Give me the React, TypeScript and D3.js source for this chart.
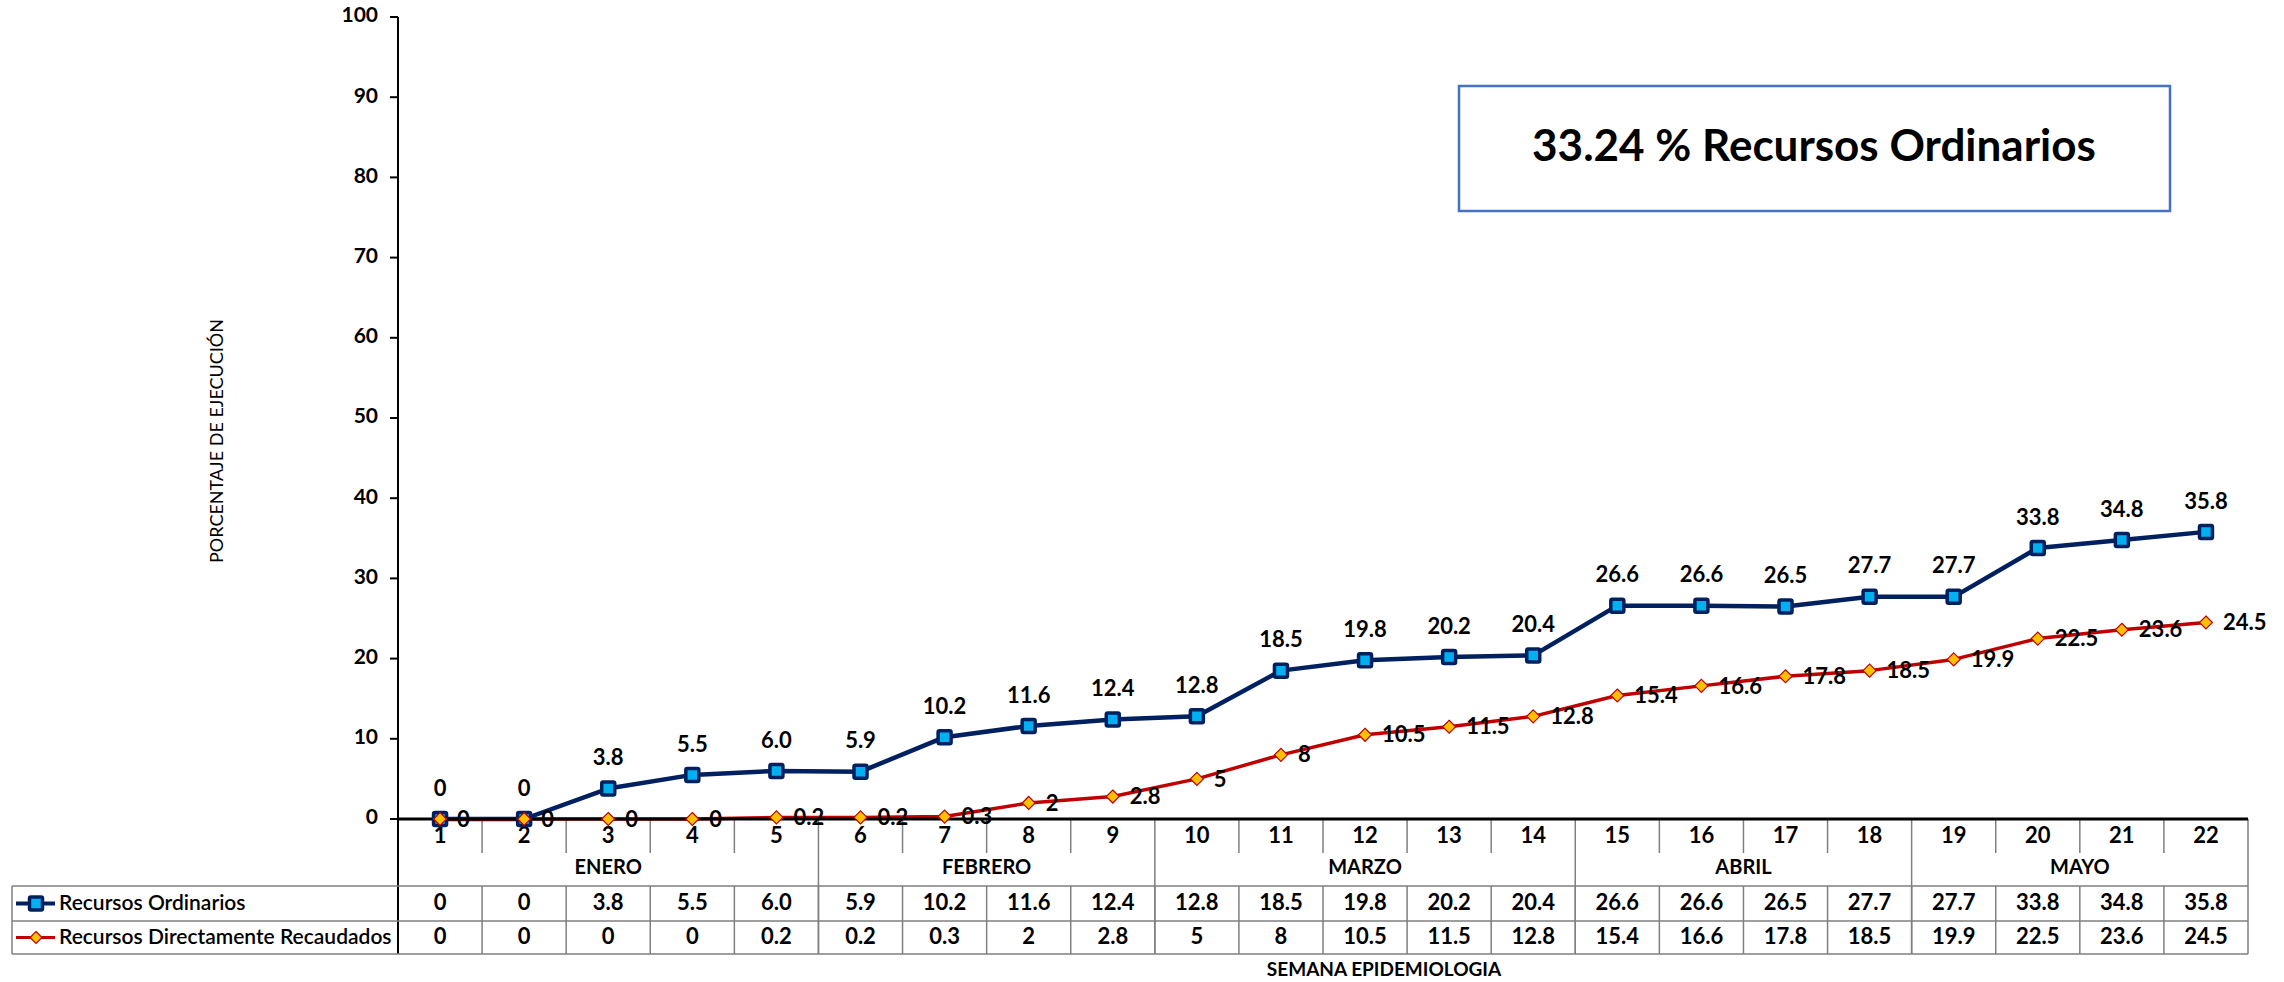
import React from 'react';
import * as d3 from 'd3';

const weeks = ['1','2','3','4','5','6','7','8','9','10','11','12','13','14','15','16','17','18','19','20','21','22'];
const ordinarios = [0, 0, 3.8, 5.5, 6.0, 5.9, 10.2, 11.6, 12.4, 12.8, 18.5, 19.8, 20.2, 20.4, 26.6, 26.6, 26.5, 27.7, 27.7, 33.8, 34.8, 35.8];
const ordinariosLabels = ['0','0','3.8','5.5','6.0','5.9','10.2','11.6','12.4','12.8','18.5','19.8','20.2','20.4','26.6','26.6','26.5','27.7','27.7','33.8','34.8','35.8'];
const directos = [0, 0, 0, 0, 0.2, 0.2, 0.3, 2, 2.8, 5, 8, 10.5, 11.5, 12.8, 15.4, 16.6, 17.8, 18.5, 19.9, 22.5, 23.6, 24.5];
const directosLabels = ['0','0','0','0','0.2','0.2','0.3','2','2.8','5','8','10.5','11.5','12.8','15.4','16.6','17.8','18.5','19.9','22.5','23.6','24.5'];
const months = [
  { name: 'ENERO', from: 0, to: 4 },
  { name: 'FEBRERO', from: 5, to: 8 },
  { name: 'MARZO', from: 9, to: 13 },
  { name: 'ABRIL', from: 14, to: 17 },
  { name: 'MAYO', from: 18, to: 21 },
];
const yTicks = [0, 10, 20, 30, 40, 50, 60, 70, 80, 90, 100];

const W = 2284;
const H = 982;
const FONT = "Lato, 'Open Sans', sans-serif";
const NAVY = '#002060';
const RED = '#C00000';
const GRID = '#7f7f7f';

export default function App() {
  const left = 398, right = 2248, top = 17, bottom = 819;
  const tableLeft = 12;
  const catRowBottom = 853;
  const row1 = 886, row2 = 921, row3 = 954;

  const x = d3.scaleBand<string>().domain(weeks).range([left, right]).padding(0);
  const y = d3.scaleLinear().domain([0, 100]).range([bottom, top]);
  const cx = (i: number) => (x(weeks[i]) as number) + x.bandwidth() / 2;

  const line = d3.line<number>().x((_, i) => cx(i)).y((d) => y(d));

  const diamond = (px: number, py: number, r: number) =>
    `M${px},${py - r}L${px + r},${py}L${px},${py + r}L${px - r},${py}Z`;

  const Square = ({ px, py }: { px: number; py: number }) => (
    <rect x={px - 6.5} y={py - 6.5} width={13} height={13} fill="#00B0F0" stroke={NAVY} strokeWidth={3.5} rx={1.5} />
  );

  return (
    <svg width={W} height={H} style={{ position: 'absolute', left: 0, top: 0, background: '#fff' }} fontFamily={FONT}>
      {/* y axis */}
      <line x1={left} x2={left} y1={top} y2={row3} stroke="#000" strokeWidth={2} />
      {yTicks.map((t) => (
        <g key={t}>
          <line x1={left - 8} x2={left} y1={y(t)} y2={y(t)} stroke="#000" strokeWidth={2} />
          <text x={left - 20} y={y(t)} textAnchor="end" dominantBaseline="middle" fontSize={21} fontWeight="bold">{t}</text>
        </g>
      ))}
      <text transform={`translate(218,441) rotate(-90)`} textAnchor="middle" dominantBaseline="middle" fontSize={18}>PORCENTAJE DE EJECUCIÓN</text>

      {/* category separators */}
      {weeks.map((w, i) => i > 0 && (
        <line key={'s' + w} x1={x(w)} x2={x(w)} y1={bottom} y2={months.some((m) => m.from === i) ? row3 : catRowBottom} stroke={GRID} strokeWidth={1.5} />
      ))}
      {weeks.map((w, i) => i > 0 && (
        <line key={'t' + w} x1={x(w)} x2={x(w)} y1={row1} y2={row3} stroke={GRID} strokeWidth={1.5} />
      ))}
      <line x1={right} x2={right} y1={bottom} y2={row3} stroke={GRID} strokeWidth={1.5} />
      <line x1={tableLeft} x2={tableLeft} y1={row1} y2={row3} stroke={GRID} strokeWidth={1.5} />
      {[row1, row2, row3].map((ry) => (
        <line key={ry} x1={tableLeft} x2={right} y1={ry} y2={ry} stroke={GRID} strokeWidth={1.5} />
      ))}

      {/* category labels */}
      {weeks.map((w, i) => (
        <text key={'c' + w} x={cx(i)} y={837} textAnchor="middle" dominantBaseline="middle" fontSize={22} fontWeight="bold">{w}</text>
      ))}
      {months.map((m) => (
        <text key={m.name} x={((x(weeks[m.from]) as number) + (x(weeks[m.to]) as number) + x.bandwidth()) / 2} y={869} textAnchor="middle" dominantBaseline="middle" fontSize={20} fontWeight="bold">{m.name}</text>
      ))}

      {/* table values */}
      {ordinariosLabels.map((v, i) => (
        <text key={'o' + i} x={cx(i)} y={(row1 + row2) / 2 + 1} textAnchor="middle" dominantBaseline="middle" fontSize={22} fontWeight="bold">{v}</text>
      ))}
      {directosLabels.map((v, i) => (
        <text key={'d' + i} x={cx(i)} y={(row2 + row3) / 2 + 1} textAnchor="middle" dominantBaseline="middle" fontSize={22} fontWeight="bold">{v}</text>
      ))}

      {/* legend keys */}
      <line x1={16} x2={55} y1={(row1 + row2) / 2} y2={(row1 + row2) / 2} stroke={NAVY} strokeWidth={4} />
      <Square px={36} py={(row1 + row2) / 2} />
      <text x={59} y={(row1 + row2) / 2 + 1} dominantBaseline="middle" fontSize={21} fontWeight={600}>Recursos Ordinarios</text>
      <line x1={16} x2={55} y1={(row2 + row3) / 2} y2={(row2 + row3) / 2} stroke={RED} strokeWidth={3} />
      <path d={diamond(36, (row2 + row3) / 2, 6)} fill="#FFC000" stroke={RED} strokeWidth={1.2} />
      <text x={59} y={(row2 + row3) / 2 + 1} dominantBaseline="middle" fontSize={21} fontWeight={600}>Recursos Directamente Recaudados</text>

      <text x={1384} y={971} textAnchor="middle" dominantBaseline="middle" fontSize={19} fontWeight="bold">SEMANA EPIDEMIOLOGIA</text>

      {/* series */}
      <path d={line(ordinarios) as string} fill="none" stroke={NAVY} strokeWidth={4.5} strokeLinejoin="round" />
      <path d={line(directos) as string} fill="none" stroke={RED} strokeWidth={3.5} strokeLinejoin="round" />

      {/* x axis line */}
      <line x1={left} x2={right} y1={bottom} y2={bottom} stroke="#000" strokeWidth={3} />

      {ordinarios.map((v, i) => (
        <Square key={'m' + i} px={cx(i)} py={y(v)} />
      ))}
      {directos.map((v, i) => (
        <path key={'n' + i} d={diamond(cx(i), y(v), 6.5)} fill="#FFC000" stroke={RED} strokeWidth={1.2} />
      ))}

      {ordinariosLabels.map((v, i) => (
        <text key={'lo' + i} x={cx(i)} y={y(ordinarios[i]) - 29} textAnchor="middle" dominantBaseline="middle" fontSize={22} fontWeight="bold">{v}</text>
      ))}
      {directosLabels.map((v, i) => (
        <text key={'ld' + i} x={cx(i) + 17} y={y(directos[i]) + 2} dominantBaseline="middle" fontSize={22} fontWeight="bold">{v}</text>
      ))}

      {/* annotation box */}
      <rect x={1459} y={86} width={711} height={125} fill="#fff" stroke="#4472C4" strokeWidth={2.5} />
      <text x={1814} y={150} textAnchor="middle" dominantBaseline="middle" fontSize={44} fontWeight="bold">33.24 % Recursos Ordinarios</text>
    </svg>
  );
}
